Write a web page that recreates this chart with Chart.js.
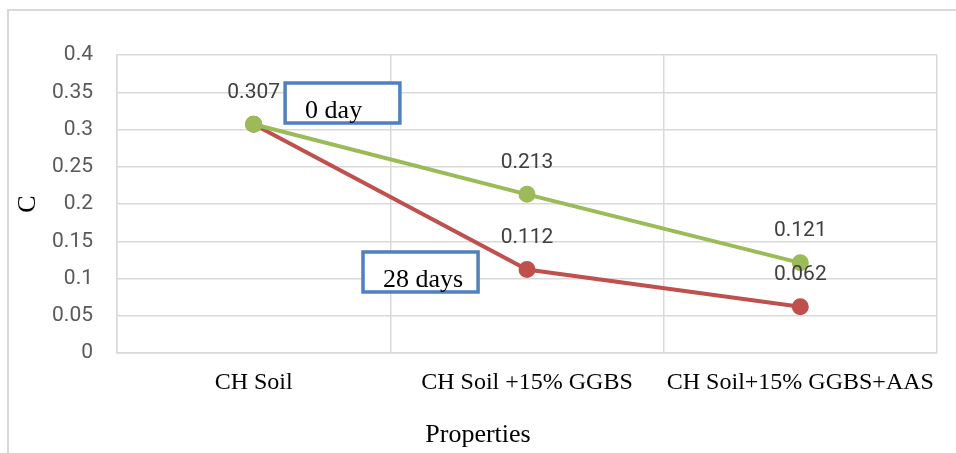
<!DOCTYPE html>
<html>
<head>
<meta charset="utf-8">
<script src="https://cdn.jsdelivr.net/npm/chart.js@4.4.1/dist/chart.umd.min.js"></script>
<style>
  body { margin: 0; background: #fff; }
  #frame {
    position: absolute; left: 7px; top: 9px; width: 1000px; height: 500px;
    border-left: 2px solid #d9d9d9; border-top: 2px solid #d9d9d9;
  }
  #wrap { position: absolute; left: 0; top: 0; width: 956px; height: 453px; }
</style>
</head>
<body>
<div id="frame"></div>
<div id="wrap"><canvas id="c_chart" width="956" height="453"></canvas></div>
<script>
// categories and values
const categories = ["CH Soil", "CH Soil +15% GGBS", "CH Soil+15% GGBS+AAS"];
const day0 = [0.307, 0.213, 0.121];
const day28 = [0.307, 0.112, 0.062];
const seriesNames = ["0 day", "28 days"];
const yMin = 0;
const yMax = 0.4;
const yStep = 0.05;

// callout boxes, in axis units (category index / y value)
const callouts = [
    { text: "0 day", x0: 0.115, x1: 0.535, y0: 0.3624, y1: 0.3087 },
    { text: "28 days", x0: 0.40, x1: 0.821, y0: 0.1356, y1: 0.0819 },
];

const serif = "'Liberation Serif', 'Times New Roman', serif";
const sans = "Roboto, 'Liberation Sans', sans-serif";

const extras = {
    id: "extras",
    afterDatasetsDraw(chart) {
        const ctx = chart.ctx;
        const xs = chart.scales.x, ys = chart.scales.y;
        ctx.save();

        // value labels above points (skip repeats at the same spot)
        ctx.font = "21px " + sans;
        ctx.fillStyle = "#404040";
        ctx.textAlign = "center";
        ctx.textBaseline = "middle";
        chart.data.datasets.forEach((ds, i) => {
            const meta = chart.getDatasetMeta(i);
            meta.data.forEach((pt, j) => {
                for (let k = 0; k < i; k++) {
                    if (chart.data.datasets[k].data[j] === ds.data[j]) return;
                }
                ctx.fillText(ds.data[j].toFixed(3), pt.x, pt.y - 32);
            });
        });

        // callout boxes
        callouts.forEach(b => {
            const l = xs.getPixelForValue(b.x0), r = xs.getPixelForValue(b.x1);
            const t = ys.getPixelForValue(b.y0), btm = ys.getPixelForValue(b.y1);
            ctx.fillStyle = "#ffffff";
            ctx.fillRect(l, t, r - l, btm - t);
            ctx.strokeStyle = "#4f81bd";
            ctx.lineWidth = 3.5;
            ctx.strokeRect(l, t, r - l, btm - t);
            ctx.fillStyle = "#000";
            ctx.font = "26px " + serif;
            ctx.textAlign = "left";
            ctx.textBaseline = "alphabetic";
            ctx.fillText(b.text, l + 20, btm - 5);
        });

        // x axis title, centred on the whole picture
        ctx.fillStyle = "#000";
        ctx.font = "26px " + serif;
        ctx.textAlign = "center";
        ctx.textBaseline = "alphabetic";
        ctx.fillText("Properties", chart.width / 2, 442);
        ctx.restore();
    }
};

const data = {
    labels: categories,
    datasets: [
        {
        label: seriesNames[0],
        data: day0,
        borderColor: "#9bbb59",
        backgroundColor: "#9bbb59",
        borderWidth: 4,
        pointRadius: 6.5,
        pointHoverRadius: 6.5,
        },
        {
        label: seriesNames[1],
        data: day28,
        borderColor: "#c0504d",
        backgroundColor: "#c0504d",
        borderWidth: 4,
        pointRadius: 6.5,
        pointHoverRadius: 6.5,
        },
    ],
};

const ctx = document.getElementById("c_chart").getContext("2d");

const myChart = new Chart(ctx, {
    type: "line",
    data: data,
    plugins: [extras],
    options: {
        responsive: false,
        animation: false,
        layout: { padding: { top: 55, right: 19, left: 0, bottom: 0 } },
        plugins: {
            legend: { display: false },
            tooltip: { enabled: false },
        },
        scales: {
            x: {
                offset: true,
                grid: { offset: true, color: "#d9d9d9", lineWidth: 1.5, drawTicks: false },
                border: { color: "#d9d9d9", width: 1.5 },
                ticks: { color: "#000", font: { family: serif, size: 24 }, padding: 15, maxRotation: 0 },
                afterFit(scale) { scale.height = 100; },
            },
            y: {
                min: yMin,
                max: yMax,
                grid: { color: "#d9d9d9", lineWidth: 1.5, drawTicks: false },
                border: { color: "#d9d9d9", width: 1.5 },
                ticks: {
                    stepSize: yStep,
                    color: "#595959",
                    font: { family: sans, size: 21 },
                    padding: 24,
                    callback: v => String(+v.toFixed(2)),
                },
                title: {
                    display: true,
                    text: "C",
                    color: "#000",
                    font: { family: serif, size: 26 },
                    padding: { top: 13, bottom: 0 },
                },
                afterFit(scale) { scale.width = 117; },
            },
        },
    },
});
</script>
</body>
</html>
